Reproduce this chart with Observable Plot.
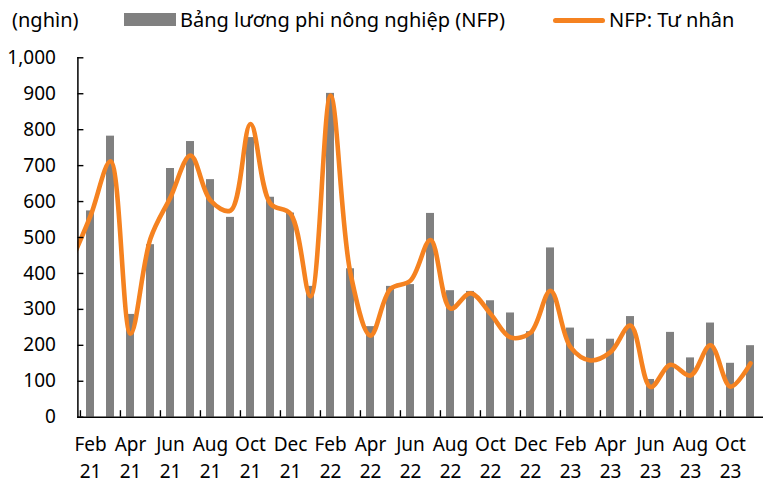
<!DOCTYPE html>
<html>
<head>
<meta charset="utf-8">
<script src="https://cdn.jsdelivr.net/npm/d3@7"></script>
<script src="https://cdn.jsdelivr.net/npm/@observablehq/plot@0.6"></script>
<style>
  html, body { margin: 0; padding: 0; background: #fff; }
  #wrap { position: relative; width: 763px; height: 481px; font-family: "Noto Sans", sans-serif; color: #000; }
  #legend { position: absolute; left: 0; top: 0; width: 763px; height: 40px; font-size: 20px; }
  #legend span { position: absolute; top: 6px; line-height: 28px; white-space: nowrap; }
  .sw { position: absolute; }
  #chart { position: absolute; left: 0; top: 0; }
</style>
</head>
<body>
<div id="wrap">
  <div id="chart"></div>
  <div id="legend">
    <span style="left:12px">(nghìn)</span>
    <div class="sw" style="left:124px; top:13px; width:52px; height:12.5px; background:#808080"></div>
    <span style="left:180px">Bảng lương phi nông nghiệp (NFP)</span>
    <div class="sw" style="left:553px; top:18.4px; width:52px; height:4.7px; border-radius:3px; background:#f58220"></div>
    <span style="left:609px">NFP: Tư nhân</span>
  </div>
</div>
<script>
// Month categories (Jan 21 is used only by the private line, clipped at the plot edge)
const months = [
  "Jan 21","Feb 21","Mar 21","Apr 21","May 21","Jun 21","Jul 21","Aug 21","Sep 21","Oct 21","Nov 21","Dec 21",
  "Jan 22","Feb 22","Mar 22","Apr 22","May 22","Jun 22","Jul 22","Aug 22","Sep 22","Oct 22","Nov 22","Dec 22",
  "Jan 23","Feb 23","Mar 23","Apr 23","May 23","Jun 23","Jul 23","Aug 23","Sep 23","Oct 23","Nov 23"
];
// Total nonfarm payrolls (thousands), Feb 21 .. Nov 23
const barMonths = months.slice(1);
const nfpTotal = [
  574, 782, 286, 480, 692, 767, 661, 556, 778, 612, 568,
  364, 901, 413, 252, 364, 369, 567, 352, 350, 324, 290, 238,
  471, 248, 217, 217, 280, 105, 236, 165, 262, 150, 199
];
// Private payrolls (thousands), Jan 21 .. Nov 23
const nfpPrivate = [
  430, 560, 712, 232, 497, 612, 728, 603, 575, 816, 594, 566,
  336, 895, 400, 227, 357, 380, 493, 302, 345, 288, 222, 235,
  352, 195, 158, 181, 255, 84, 146, 116, 200, 85, 150
];
const yTicks = [0, 100, 200, 300, 400, 500, 600, 700, 800, 900, 1000];
const tickMonths = ["Feb 21","Apr 21","Jun 21","Aug 21","Oct 21","Dec 21","Feb 22","Apr 22","Jun 22","Aug 22","Oct 22","Dec 22","Feb 23","Apr 23","Jun 23","Aug 23","Oct 23"];

const W = 763, H = 481;
const ML = 77.4, MT = 57.3, MB = 64.3, MR = 0;
const step = (W - MR - ML) / (months.length - 1);
const plotW = W - ML - MR, plotH = H - MT - MB;
const ORANGE = "#f58220", GRAY = "#808080";
const fmt = d3.format(",");

const chart = Plot.plot({
  width: W, height: H,
  marginLeft: ML, marginRight: MR, marginTop: MT, marginBottom: MB,
  style: { fontFamily: "Noto Sans, sans-serif", fontSize: "19px", background: "transparent", color: "#000" },
  x: { type: "band", domain: months, range: [ML - step, W - MR], paddingInner: 0.6, paddingOuter: 0.3, axis: null },
  y: { domain: [0, 1000], axis: null },
  marks: [
    Plot.barY(nfpTotal, { x: (d, i) => barMonths[i], y: d => d, fill: GRAY }),
    Plot.line(nfpPrivate, { x: (d, i) => months[i], y: d => d, curve: "catmull-rom", stroke: ORANGE, strokeWidth: 4.6, strokeLinecap: "round", strokeLinejoin: "round", clip: true }),
    Plot.tickY(yTicks, { y: d => d, insetRight: plotW - 6, stroke: "#000", strokeWidth: 1.4 }),
    Plot.tickX(tickMonths, { x: d => d, dx: -step / 2, insetTop: plotH - 6.5, stroke: "#000", strokeWidth: 1.4 }),
    Plot.frame({ anchor: "left", stroke: "#000", strokeWidth: 1.5 }),
    Plot.frame({ anchor: "bottom", stroke: "#000", strokeWidth: 1.5 }),
    Plot.text(yTicks, { y: d => d, text: d => fmt(d), frameAnchor: "left", textAnchor: "end", dx: -22, fontSize: 19, fill: "#000" }),
    Plot.text(tickMonths, { x: d => d, text: d => d.replace(" ", "\n"), frameAnchor: "bottom", lineAnchor: "top", dy: 14.6, lineHeight: 1.42, fontSize: 19, fill: "#000" })
  ]
});
document.getElementById("chart").appendChild(chart);
</script>
</body>
</html>
